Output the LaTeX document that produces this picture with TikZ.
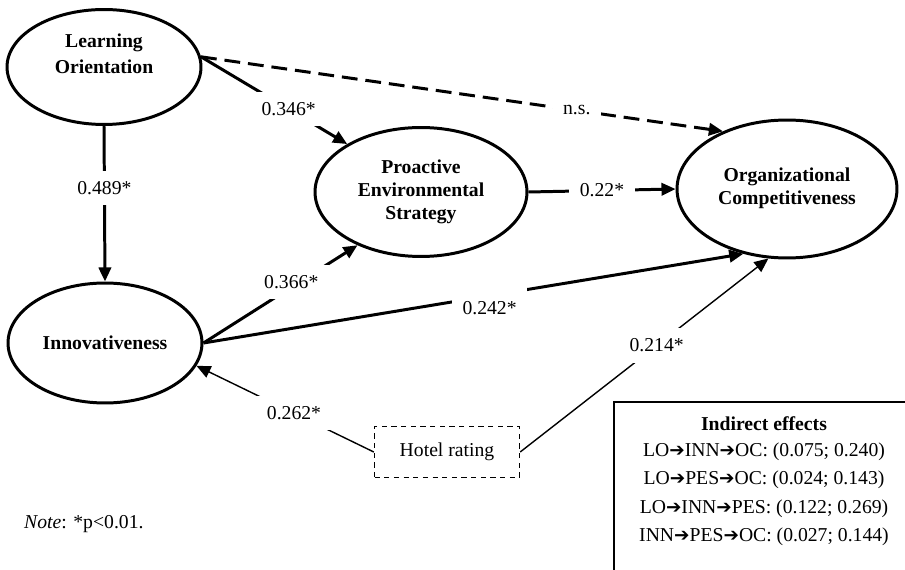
\documentclass[tikz,border=0pt]{standalone}
\usepackage{fontspec}
\setmainfont{Liberation Serif}
\newfontfamily\arrowfont{DejaVu Sans}
\usetikzlibrary{shapes.geometric}
\usetikzlibrary{arrows.meta}
\newcommand{\ra}{{\arrowfont\fontsize{10.5}{10.5}\selectfont ➔}}

\begin{document}
\begin{tikzpicture}[x=0.02cm,y=-0.02cm,
  font=\fontsize{11.2}{13.5}\selectfont,
  latent/.style={ellipse,draw,line width=1.7pt,inner sep=0pt,align=center,
    font=\fontsize{11.2}{13}\selectfont\bfseries},
  direct/.style={line width=1.7pt,-{Triangle[length=8pt,width=7pt]}},
  control/.style={line width=0.8pt,-{Triangle[length=8pt,width=7pt]}},
  coef/.style={fill=white,inner sep=6pt}]
\useasboundingbox (0,0) rectangle (905,570);

\node[latent,minimum width=3.88cm,minimum height=2.3cm] (LO) at (104,67) {Learning\\[2pt]Orientation\\[2pt]\mbox{}};
\node[latent,minimum width=3.88cm,minimum height=2.4cm] (INN) at (105,343) {Innovativeness};
\node[latent,minimum width=4.24cm,minimum height=2.58cm] (PES) at (421,192) {Proactive\\Environmental\\Strategy};
\node[latent,minimum width=4.4cm,minimum height=2.76cm] (OC) at (787,189) {\mbox{}\\[-6pt]Organizational\\Competitiveness};
\node[draw,dash pattern=on 3pt off 2.5pt,line width=0.8pt,minimum width=2.9cm,minimum height=1.02cm] (hotel) at (447,452) {Hotel rating};

\draw[direct] (LO.south) -- node[coef,pos=0.4]{0.489*} (INN.north);
\draw[direct] (LO.6) -- node[coef,pos=0.6]{0.346*} (PES.147);
\draw[direct,dash pattern=on 9pt off 4.5pt] (LO.6) -- node[coef,pos=0.72]{n.s.} (OC.138);
\draw[direct] (INN.east) -- node[coef,pos=0.57,yshift=3pt]{0.366*} (PES.220);
\draw[direct] (INN.east) -- node[coef,inner ysep=9pt,pos=0.53,yshift=-7pt]{0.242*} (OC.236);
\draw[direct] (PES.east) -- node[coef]{0.22*} (OC.west);
\draw[control] (hotel.east) -- node[coef,pos=0.55]{0.214*} (OC.255);
\draw[control] (hotel.west) -- node[coef,pos=0.45]{0.262*} (INN.-14);

\draw[line width=0.8pt] (614,580) |- (915,402);
\node[anchor=north,inner sep=0pt,align=center] (effects) at (764,416)
  {\textbf{Indirect effects}\\[1.2pt]
   LO\ra INN\ra OC: (0.075; 0.240)\\[2.8pt]
   LO\ra PES\ra OC: (0.024; 0.143)\\[2.8pt]
   LO\ra INN\ra PES: (0.122; 0.269)\\[2.8pt]
   INN\ra PES\ra OC: (0.027; 0.144)};

\node[anchor=west] (note) at (18,524) {\textit{Note}: *p<0.01.};
\end{tikzpicture}
\end{document}
